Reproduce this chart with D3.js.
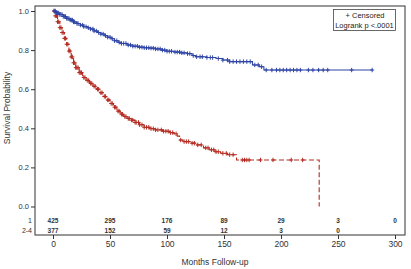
<!DOCTYPE html>
<html><head><meta charset="utf-8">
<script src="https://cdn.jsdelivr.net/npm/d3@7/dist/d3.min.js"></script>
<style>body{margin:0;background:#fff}svg{display:block;font-family:"Liberation Sans",Arial,sans-serif}</style>
</head><body><svg id="c" width="411" height="269"></svg>
<script>
// Group "1" (blue) Kaplan-Meier steps
const blueTimes = [0,3,6,9,12,15,18,21,24,27,30,33,36,39,42,45,48,51,54,57,60,65,70,75,80,85,90,95,100,106,112,118,122,125,135,143,149,155,175,181,185];
const blueSurv  = [1.000,0.990,0.982,0.972,0.962,0.954,0.944,0.936,0.928,0.920,0.914,0.908,0.898,0.890,0.882,0.874,0.866,0.858,0.848,0.840,0.834,0.826,0.820,0.815,0.812,0.810,0.806,0.800,0.794,0.790,0.786,0.782,0.772,0.766,0.762,0.757,0.749,0.741,0.724,0.715,0.698];
const blueEnd = 280;
const blueCensor = [1,2,3,4,5,6,7,8,9,10,11,12,13,14,15,16,17,18,19,21,22,24,26,27,29,31,33,35,36,38,40,42,44,46,48,50,52,54,56,58,60,62,64,66,68,70,72,74,76,78,80,82,84,86,88,90,92,94,96,98,100,102,104,107,109,111,113,115,118,120,123,126,129,131,135,138,140,145,149,153,155,158,161,164,167,170,173,177,180,183,187,192,196,199,202,205,208,211,214,217,224,228,233,237,241,262,280];
// Group "2-4" (red) Kaplan-Meier steps
const redTimes = [0,2,4,6,8,10,12,14,16,18,20,23,26,29,32,35,38,41,44,47,50,53,56,59,62,65,68,72,76,80,85,90,96,102,106,109,111,114,120,126,132,137,142,147,153,161,233.5];
const redSurv  = [1.000,0.975,0.945,0.915,0.890,0.860,0.830,0.795,0.765,0.735,0.710,0.685,0.660,0.645,0.630,0.615,0.600,0.582,0.563,0.545,0.527,0.508,0.488,0.472,0.460,0.450,0.442,0.430,0.418,0.405,0.398,0.392,0.385,0.378,0.372,0.360,0.340,0.332,0.324,0.315,0.300,0.290,0.280,0.272,0.265,0.238,0.000];
const redCensor = [1,2,3,4,5,6,7,8,9,10,11,12,13,14,15,16,17,18,19,20,21,22,23,24,25,27,28,30,31,33,34,36,37,39,40,42,43,45,46,48,49,51,52,54,55,57,58,60,61,63,64,66,67,69,70,72,73,75,76,78,80,82,84,86,88,90,92,95,97,99,101,103,105,108,112,115,117,119,122,124,127,130,134,136,139,141,143,145,149,152,155,158,166,168,170,172,182,193,209,219];
// Number at risk
const riskTimes = [0,50,100,150,200,250,300];
const riskGroups = ["1","2-4"];
const riskBlue = [425,295,176,89,29,3,0];
const riskRed  = [377,152,59,12,3,0];
const xTicks = [0,50,100,150,200,250,300];
const yTicks = [0,0.2,0.4,0.6,0.8,1.0];

const svg = d3.select("#c");
const x = d3.scaleLinear().domain([0,300]).range([53,395]);
const y = d3.scaleLinear().domain([0,1]).range([206.5,11]);
const frame = {l:35,t:6,r:405,b:235};
const blue = "#2f45a6", red = "#b42c22", axc = "#333";

svg.append("rect").attr("x",frame.l).attr("y",frame.t).attr("width",frame.r-frame.l).attr("height",frame.b-frame.t)
  .attr("fill","none").attr("stroke","#444").attr("stroke-width",1.1);

const ya = svg.append("g").attr("transform",`translate(${frame.l},0)`)
  .call(d3.axisLeft(y).tickValues(yTicks).tickFormat(d3.format(".1f")).tickSize(4).tickPadding(2));
ya.select(".domain").remove();
ya.selectAll("line").attr("stroke",axc);
ya.selectAll("text").attr("font-size",7.5).attr("fill",axc).attr("font-family","Liberation Sans, Arial, sans-serif");

const xa = svg.append("g").attr("transform",`translate(0,${frame.b})`)
  .call(d3.axisBottom(x).tickValues(xTicks).tickSize(4).tickPadding(2));
xa.select(".domain").remove();
xa.selectAll("line").attr("stroke",axc);
xa.selectAll("text").attr("font-size",8.5).attr("fill",axc).attr("font-family","Liberation Sans, Arial, sans-serif");

svg.append("text").attr("x",215).attr("y",265).attr("text-anchor","middle").attr("font-size",8.5).attr("fill",axc).text("Months Follow-up");
svg.append("text").attr("transform","translate(10,108) rotate(-90)").attr("text-anchor","middle").attr("font-size",8.5).attr("fill",axc).text("Survival Probability");

const rowY = [223,233];
[riskBlue,riskRed].forEach((vals,i)=>{
  svg.append("text").attr("x",32).attr("y",rowY[i]).attr("text-anchor","end").attr("font-size",7).attr("fill",axc).text(riskGroups[i]);
  svg.selectAll(null).data(vals).enter().append("text")
    .attr("x",(d,j)=>x(riskTimes[j])).attr("y",rowY[i]).attr("text-anchor","middle")
    .attr("font-size",6.5).attr("font-weight","bold").attr("fill","#333").text(d=>d);
});

function stepPts(times,surv,end){
  const pts=[];
  for(let i=0;i<times.length;i++){
    if(i>0) pts.push([times[i],surv[i-1]]);
    pts.push([times[i],surv[i]]);
  }
  if(end!=null) pts.push([end,surv[surv.length-1]]);
  return pts;
}
function survAt(times,surv,t){
  let s=surv[0];
  for(let i=0;i<times.length;i++){ if(times[i]<=t) s=surv[i]; }
  return s;
}
const line = d3.line().x(d=>x(d[0])).y(d=>y(d[1]));

function drawGroup(times,surv,end,censor,color,dash){
  const pts = stepPts(times,surv,end);
  svg.append("path").attr("d",line(pts)).attr("fill","none").attr("stroke",color).attr("stroke-width",1.1)
    .attr("stroke-dasharray",dash);
  const g = svg.append("g").attr("stroke",color).attr("stroke-width",1);
  censor.forEach(t=>{
    const s = survAt(times,surv,t);
    const cx=x(t), cy=y(s);
    g.append("line").attr("x1",cx-2).attr("x2",cx+2).attr("y1",cy).attr("y2",cy);
    g.append("line").attr("x1",cx).attr("x2",cx).attr("y1",cy-2.2).attr("y2",cy+2.2);
  });
}
drawGroup(redTimes,redSurv,null,redCensor,red,"5,2.5");
drawGroup(blueTimes,blueSurv,blueEnd,blueCensor,blue,null);

svg.append("rect").attr("x",333.5).attr("y",9.5).attr("width",62).attr("height",21).attr("fill","#fff").attr("stroke","#444").attr("stroke-width",0.8);
svg.append("text").attr("x",365).attr("y",18).attr("text-anchor","middle").attr("font-size",7.5).attr("fill","#222").text("+ Censored");
svg.append("text").attr("x",364.5).attr("y",27.5).attr("text-anchor","middle").attr("font-size",7.5).attr("fill","#222").text("Logrank p <.0001");
</script></body></html>
